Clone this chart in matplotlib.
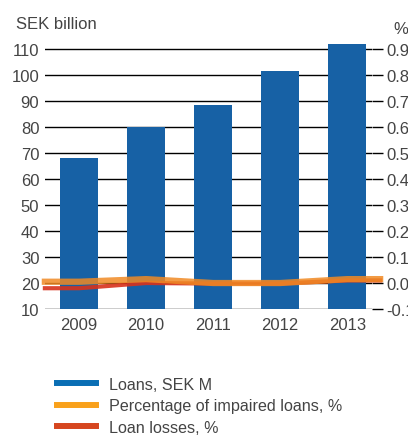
import numpy as np
import matplotlib
matplotlib.use("Agg")
import matplotlib.pyplot as plt
from matplotlib.lines import Line2D

plt.rcParams['font.family'] = ['Liberation Sans Narrow', 'Liberation Sans', 'DejaVu Sans']

# data
years = ["2009", "2010", "2011", "2012", "2013"]
loans = [68, 80, 88.5, 101.5, 112]
impaired_pct = [0.005, 0.015, 0.0, 0.0, 0.015]
loan_losses_pct = [-0.02, 0.0, -0.002, -0.002, 0.01]
left_ticks = [10, 20, 30, 40, 50, 60, 70, 80, 90, 100, 110]
right_ticks = [-0.1, 0.0, 0.1, 0.2, 0.3, 0.4, 0.5, 0.6, 0.7, 0.8, 0.9]

text_col = "#444444"
blue = "#1761a5"
orange = "#f08a24"
red = "#d8321c"

fig = plt.figure(figsize=(4.08, 4.39), dpi=100)
ax = fig.add_axes([0.110, 0.2938, 0.802, 0.610])
x = np.arange(len(years))
ax.bar(x, loans, width=0.57, color=blue, zorder=3)
ax.set_xlim(-0.51, 4.37)
ax.set_ylim(10, 113)
ax.set_yticks(left_ticks)
ax.grid(axis="y", color="black", linewidth=1, zorder=1)
for s in ax.spines.values():
    s.set_visible(False)
ax.tick_params(axis="y", length=0, labelsize=12, colors=text_col, pad=4)
ax.tick_params(axis="x", length=0, labelsize=12, colors=text_col, pad=6)
ax.set_xticks(x)
ax.set_xticklabels(years)

ax2 = ax.twinx()
ax2.set_ylim(-0.1, 0.93)
ax2.set_yticks(right_ticks)
ax2.set_yticklabels([f"{t:.1f}" for t in right_ticks])
for s in ax2.spines.values():
    s.set_visible(False)
ax2.tick_params(axis="y", length=8, width=1, color="black", labelsize=12,
                colors=text_col, pad=2)

# lines run from the left edge to the right tick marks
xl = np.r_[-0.51, x, 4.49]
imp = np.r_[impaired_pct[0], impaired_pct, impaired_pct[-1]]
los = np.r_[loan_losses_pct[0], loan_losses_pct, loan_losses_pct[-1]]
ax2.plot(xl, los, color=red, linewidth=3, alpha=0.9, zorder=4, clip_on=False)
ax2.plot(xl, imp, color=orange, linewidth=4.5, alpha=0.85, zorder=5, clip_on=False)

fig.text(0.04, 0.945, "SEK billion", fontsize=12, color=text_col, va="center")
fig.text(0.965, 0.932, "%", fontsize=12, color=text_col, va="center")

handles = [Line2D([], [], color="#0a6eb4", linewidth=4.3),
           Line2D([], [], color="#f9a11b", linewidth=4.3),
           Line2D([], [], color="#d6461f", linewidth=4.3)]
labels = ["Loans, SEK M", "Percentage of impaired loans, %", "Loan losses, %"]
leg = fig.legend(handles, labels, loc="upper left", bbox_to_anchor=(0.14, 0.14),
                 frameon=False, fontsize=11.6, handlelength=2.4, handletextpad=0.8,
                 labelspacing=0.42, borderaxespad=0, borderpad=0)
for t in leg.get_texts():
    t.set_color(text_col)

fig.savefig("out.png", dpi=100)
